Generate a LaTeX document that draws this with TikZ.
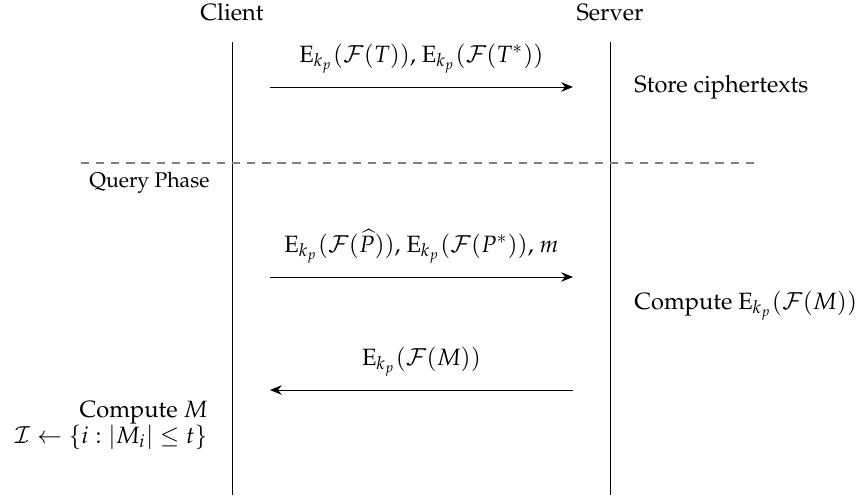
\documentclass[tikz,border=0pt]{standalone}
\usepackage[T1]{fontenc}
\usepackage{mathpazo}
\usetikzlibrary{arrows.meta}
\newcommand{\Enc}[1]{\mathrm{E}_{k_p}(\mathcal{F}(#1))}
\begin{document}
\begin{tikzpicture}[x=0.4237pt,y=-0.4237pt,
  party/.style={inner sep=0pt,anchor=base},
  lifeline/.style={line width=0.4pt},
  msg/.style={-{Stealth[length=5pt,width=4pt]},line width=0.4pt},
  msglabel/.style={midway,above,inner sep=0pt,yshift=5.5pt},
  note/.style={inner sep=0pt,anchor=base west},
  phase/.style={gray,dash pattern=on 3.5pt off 2.9pt,line width=0.5pt}]
\useasboundingbox (0,0) rectangle (861,498);
% parties
\node[party] (client) at (232,20) {Client};
\node[party] (server) at (610,20) {Server};
\coordinate (cTop) at (232,42);
\coordinate (cBot) at (232,495);
\coordinate (sTop) at (610,42);
\coordinate (sBot) at (610,495);
\draw[lifeline] (cTop) -- (cBot);
\draw[lifeline] (sTop) -- (sBot);
% storage phase
\coordinate (m1a) at (270,87);
\coordinate (m1b) at (573,87);
\draw[msg] (m1a) -- (m1b) node[msglabel] (l1) {$\Enc{T}$, $\Enc{T^*}$};
\node[note] (store) at (634,92) {Store ciphertexts};
% phase separator
\coordinate (dA) at (81,163);
\coordinate (dB) at (760,163);
\draw[phase] (dA) -- (dB);
\node[inner sep=0pt,anchor=base east,font=\small] (query) at (210,187) {Query Phase};
% query phase
\coordinate (m2a) at (270,277);
\coordinate (m2b) at (573,277);
\draw[msg] (m2a) -- (m2b) node[msglabel] (l2) {$\Enc{\widehat{P}}$, $\Enc{P^*}$, $m$};
\node[note] (comp) at (634,309) {Compute $\Enc{M}$};
\coordinate (m3a) at (573,390);
\coordinate (m3b) at (270,390);
\draw[msg] (m3a) -- (m3b) node[msglabel] (l3) {$\Enc{M}$};
\node[inner sep=0pt,anchor=base east,align=right] (cm) at (208,443) {Compute $M$\\[-1.4pt] $\mathcal{I}\leftarrow\{i:|M_i|\le t\}$};
\end{tikzpicture}
\end{document}
